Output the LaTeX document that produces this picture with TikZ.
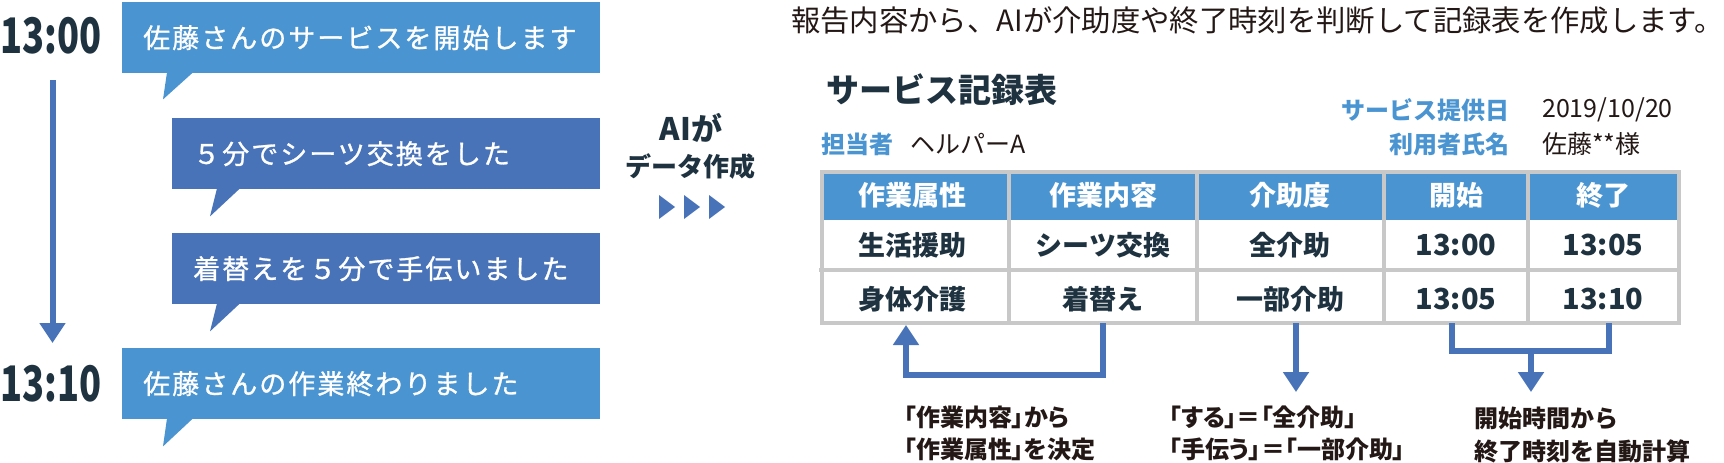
\documentclass[tikz,border=0pt]{standalone}
\usepackage{fontspec}
\setmainfont{Noto Sans CJK JP}
\newfontfamily\jpm[FakeBold=1,LetterSpace=7.5]{Noto Sans CJK JP}
\newfontfamily\jpp[RawFeature=+palt]{Noto Sans CJK JP}
\usetikzlibrary{arrows.meta}
\definecolor{lblue}{HTML}{4A95D1}
\definecolor{dblue}{HTML}{4873B8}
\definecolor{navy}{HTML}{1E3240}
\definecolor{ink}{HTML}{231815}
\definecolor{gridc}{HTML}{C8C8C8}
\tikzset{
  bubble/.style={anchor=north west, inner xsep=21pt, inner ysep=0pt, minimum height=71pt,
     text width=436pt, align=left, text=white, font=\jpm\fontsize{27}{27}\selectfont},
  bubblen/.style={bubble, text width=386pt},
  bigtime/.style={anchor=west, inner sep=0pt, text=navy},
  hcell/.style={text=white, font=\bfseries\fontsize{27}{27}\selectfont, inner sep=0pt},
  kcell/.style={text=navy, font=\bfseries\fontsize{27}{27}\selectfont, inner sep=0pt},
  ncell/.style={text=navy, font=\bfseries\fontsize{29}{29}\selectfont, inner sep=0pt},
  gridline/.style={draw=gridc, line width=3.5pt},
  arr/.style={draw=dblue, line width=6pt, line join=miter, -{Triangle[width=25pt,length=20pt]}},
  bar/.style={draw=dblue, line width=6pt, line join=miter},
  note/.style={anchor=west, inner sep=0pt, text=ink, font=\bfseries\fontsize{24}{24}\selectfont},
  pnote/.style={anchor=west, inner sep=0pt, text=ink, font=\jpp\bfseries\fontsize{24}{24}\selectfont},
  lab/.style={inner sep=0pt, text=lblue, font=\bfseries\fontsize{24}{24}\selectfont},
  val/.style={anchor=west, inner sep=0pt, text=ink, font=\fontsize{25}{25}\selectfont},
}
\begin{document}
\begin{tikzpicture}[x=1pt,y=-1pt]
\useasboundingbox (0,0) rectangle (1724,463);
% ---- left timeline ----
\node[bigtime] (t1) at (0,36) {\scalebox{0.74}[1]{\bfseries\fontsize{49}{49}\selectfont 13:00}};
\node[bigtime] (t2) at (0,384) {\scalebox{0.74}[1]{\bfseries\fontsize{49}{49}\selectfont 13:10}};
\coordinate (ls) at (52.5,80);
\coordinate (le) at (52.5,343);
\draw[arr] (ls) -- (le);

\node[bubble, fill=lblue] (b1) at (122,2) {佐藤さんのサービスを開始します};
\fill[lblue] ([xshift=45pt,yshift=1pt]b1.south west) -- ([xshift=71pt,yshift=1pt]b1.south west) -- ([xshift=41pt,yshift=-26pt]b1.south west) -- cycle;
\node[bubblen, fill=dblue] (b2) at (172,118) {５分でシーツ交換をした};
\fill[dblue] ([xshift=45pt,yshift=1pt]b2.south west) -- ([xshift=68pt,yshift=1pt]b2.south west) -- ([xshift=38pt,yshift=-27pt]b2.south west) -- cycle;
\node[bubblen, fill=dblue] (b3) at (172,233) {着替えを５分で手伝いました};
\fill[dblue] ([xshift=45pt,yshift=1pt]b3.south west) -- ([xshift=68pt,yshift=1pt]b3.south west) -- ([xshift=38pt,yshift=-27pt]b3.south west) -- cycle;
\node[bubble, fill=lblue] (b4) at (122,348) {佐藤さんの作業終わりました};
\fill[lblue] ([xshift=45pt,yshift=1pt]b4.south west) -- ([xshift=71pt,yshift=1pt]b4.south west) -- ([xshift=41pt,yshift=-27pt]b4.south west) -- cycle;

% ---- middle ----
\node[inner sep=0pt, text=navy, font=\bfseries\fontsize{31}{31}\selectfont] (ai1) at (691,128) {AIが};
\node[inner sep=0pt, text=navy, font=\bfseries\fontsize{26}{26}\selectfont] (ai2) at (690,167) {データ作成};
\foreach \xx [count=\i] in {659,684,709} {
  \fill[dblue] (\xx,195) -- (\xx+16,207) -- (\xx,219) -- cycle;
}

% ---- right ----
\node[anchor=west, inner sep=0pt, text=ink, font=\fontsize{29.35}{29.35}\selectfont] (desc) at (791,20) {報告内容から、AIが介助度や終了時刻を判断して記録表を作成します。};
\node[anchor=west, inner sep=0pt, text=navy, font=\bfseries\fontsize{33}{33}\selectfont] (title) at (826,90) {サービス記録表};
\node[lab, anchor=west] (l1) at (821,144) {担当者};
\node[val] (v1) at (910,144) {ヘルパーA};
\node[lab, anchor=east] (l2) at (1510,110) {サービス提供日};
\node[val] (v2) at (1542,110) {2019/10/20};
\node[lab, anchor=east] (l3) at (1510,144) {利用者氏名};
\node[val] (v3) at (1542,144) {佐藤**様};

% table
\fill[lblue] (822,172) rectangle (1679,220);
\draw[gridline] (822,172) rectangle (1679,323);
\foreach \xx in {1009,1197,1384,1528} { \draw[gridline] (\xx,172) -- (\xx,323); }
\draw[gridline] (819,270) -- (1679,270);

\node[hcell] (h1) at (912,195) {作業属性};
\node[hcell] (h2) at (1103,195) {作業内容};
\node[hcell] (h3) at (1290,195) {介助度};
\node[hcell] (h4) at (1456,195) {開始};
\node[hcell] (h5) at (1603,195) {終了};
\node[kcell] (r11) at (912,245) {生活援助};
\node[kcell] (r12) at (1103,245) {シーツ交換};
\node[kcell] (r13) at (1290,245) {全介助};
\node[ncell] (r14) at (1456,245) {13:00};
\node[ncell] (r15) at (1603,245) {13:05};
\node[kcell] (r21) at (912,299) {身体介護};
\node[kcell] (r22) at (1103,299) {着替え};
\node[kcell] (r23) at (1290,299) {一部介助};
\node[ncell] (r24) at (1456,299) {13:05};
\node[ncell] (r25) at (1603,299) {13:10};

% arrows
\coordinate (a1s) at (1103,323);
\coordinate (a1e) at (906,325);
\draw[arr] (a1s) -- (1103,375) -- (906,375) -- (a1e);
\coordinate (a2s) at (1296,323);
\coordinate (a2e) at (1296,392);
\draw[arr] (a2s) -- (a2e);
\coordinate (a3l) at (1452,323);
\coordinate (a3r) at (1609,323);
\draw[bar] (a3l) -- (1452,351) -- (1609,351) -- (a3r);
\coordinate (a3s) at (1531,351);
\coordinate (a3e) at (1531,392);
\draw[arr] (a3s) -- (a3e);

% notes
\node[pnote] (n1) at (904,417) {「作業内容」から};
\node[pnote] (n2) at (904,449) {「作業属性」を決定};
\node[pnote] (n3) at (1169,417) {「する」＝「全介助」};
\node[pnote] (n4) at (1169,449) {「手伝う」＝「一部介助」};
\node[note] (n5) at (1474,418) {開始時間から};
\node[note] (n6) at (1474,451) {終了時刻を自動計算};
\end{tikzpicture}
\end{document}
